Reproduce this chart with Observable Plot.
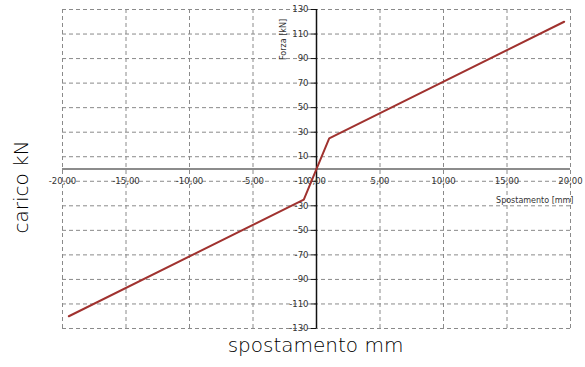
<!DOCTYPE html>
<html><head><meta charset="utf-8">
<script src="https://cdn.jsdelivr.net/npm/d3@7"></script>
<script src="https://cdn.jsdelivr.net/npm/@observablehq/plot@0.6"></script>
<style>
body{margin:0;background:#fff;}
#c{position:relative;width:585px;height:367px;}
</style></head><body><div id="c"></div>
<script>
const spostamento = [-19.5, -1.0, 1.0, 19.5];
const carico = [-120, -25, 25, 120];
const xTicks = [-20, -15, -10, -5, 0, 5, 10, 15, 20];
const yTicks = [130, 110, 90, 70, 50, 30, 10, -10, -30, -50, -70, -90, -110, -130];
const xTickLabels = ["-20,00", "-15,00", "-10,00", "-5,00", "0,00", "5,00", "10,00", "15,00", "20,00"];

const pts = spostamento.map((x, i) => ({x, y: carico[i]}));
const font = "'DejaVu Sans', sans-serif";
const gridX = xTicks.filter(d => d !== 0);

const plot = Plot.plot({
  width: 585, height: 367,
  marginLeft: 62, marginRight: 15, marginTop: 9, marginBottom: 39,
  x: {domain: [-20, 20], axis: null},
  y: {domain: [-130, 130], axis: null},
  style: {fontFamily: font, background: "#fff"},
  marks: [
    Plot.ruleY(yTicks, {stroke: "#8a8a8a", strokeDasharray: "4,3", strokeWidth: 1}),
    Plot.ruleX(gridX, {y1: -130, y2: 130, stroke: "#8a8a8a", strokeDasharray: "4,3", strokeWidth: 1}),
    Plot.ruleY([0], {stroke: "#666", strokeWidth: 1.5}),
    Plot.ruleX([0], {y1: -130, y2: 130, stroke: "#111", strokeWidth: 1.5}),
    Plot.link(yTicks, {x1: -0.45, x2: 0, y1: d => d, y2: d => d, stroke: "#111"}),
    Plot.text(yTicks, {x: 0, y: d => d, text: d => String(d), textAnchor: "end", dx: -8, fontSize: 8.5, fill: "#333"}),
    Plot.text(xTicks, {x: d => d, y: -10, text: (d, i) => xTickLabels[i], textAnchor: "middle", fontSize: 8.5, fill: "#333"}),
    Plot.line(pts, {x: "x", y: "y", stroke: "#a0322f", strokeWidth: 2}),
    Plot.text(["Forza [kN]"], {x: 0, y: 130, text: d => d, rotate: -90, dx: -33, dy: 30, fontSize: 8, fill: "#333"}),
    Plot.text(["Spostamento [mm]"], {x: 20, y: -10, text: d => d, textAnchor: "end", dx: 3, dy: 19, fontSize: 8, fill: "#333"}),
    Plot.text(["carico kN"], {frameAnchor: "left", textAnchor: "middle", text: d => d, rotate: -90, dx: -41, dy: 18, fontSize: 20, fontWeight: 200, fill: "#000"}),
    Plot.text(["spostamento mm"], {frameAnchor: "bottom", textAnchor: "middle", text: d => d, dx: -1, dy: 23, fontSize: 20, fontWeight: 200, fill: "#000"})
  ]
});
document.getElementById("c").appendChild(plot);
</script></body></html>
